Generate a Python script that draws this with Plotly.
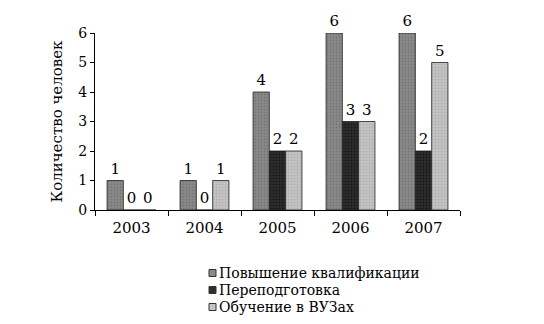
import plotly.graph_objects as go

years = ["2003", "2004", "2005", "2006", "2007"]
series_names = ["Повышение квалификации", "Переподготовка", "Обучение в ВУЗах"]
povyshenie = [1, 1, 4, 6, 6]
perepodgotovka = [0, 0, 2, 3, 2]
obuchenie = [0, 1, 2, 3, 5]
y_ticks = [0, 1, 2, 3, 4, 5, 6]

values = [povyshenie, perepodgotovka, obuchenie]
bg = ["#8a8a8a", "#2e2e2e", "#c4c4c4"]
fg = ["#5e5e5e", "#000000", "#9a9a9a"]

FONT = "DejaVu Serif"
W, H = 544, 324
ML, MR, MT, MB = 95, 84, 33, 114
PW, PH = W - ML - MR, H - MT - MB

def px_to_paper(px, py):
    return (px - ML) / PW, (H - MB - py) / PH

fig = go.Figure()
for name, vals, b, f in zip(series_names, values, bg, fg):
    fig.add_trace(go.Bar(
        x=years, y=vals, name=name,
        text=[str(v) for v in vals], textposition="outside",
        textfont=dict(family=FONT, size=15, color="black"),
        cliponaxis=False,
        marker=dict(color=b, line=dict(color="#222222", width=0.8),
                    pattern=dict(shape=".", fgcolor=f, bgcolor=b, size=3, solidity=0.3)),
    ))

# manual legend (compact rows like the reference)
for i, (name, b) in enumerate(zip(series_names, bg)):
    cy = 273 + 17 * i
    x0, y0 = px_to_paper(209, cy - 3.5)
    x1, y1 = px_to_paper(216, cy + 3.5)
    fig.add_shape(type="rect", xref="paper", yref="paper", x0=x0, x1=x1, y0=y1, y1=y0,
                  fillcolor=b, line=dict(color="#333333", width=1))
    tx, ty = px_to_paper(218, cy)
    fig.add_annotation(xref="paper", yref="paper", x=tx, y=ty, xanchor="left", yanchor="middle",
                       text=name, showarrow=False, borderpad=0,
                       font=dict(family=FONT, size=14, color="black"))

fig.update_layout(
    width=W, height=H,
    margin=dict(l=ML, r=MR, t=MT, b=MB, autoexpand=False),
    paper_bgcolor="white", plot_bgcolor="white",
    barmode="group", bargap=0.33, bargroupgap=0,
    font=dict(family=FONT, size=14, color="black"),
    showlegend=False,
)
fig.update_xaxes(showline=True, linecolor="black", linewidth=1, ticks="outside",
                 tickson="boundaries", ticklen=5, tickcolor="black", showgrid=False,
                 ticklabelstandoff=4, tickfont=dict(family=FONT, size=15))
fig.update_yaxes(range=[0, 6], tickvals=y_ticks, showline=True, linecolor="black",
                 linewidth=1, ticks="outside", ticklen=4, tickcolor="black",
                 showgrid=False, zeroline=False,
                 title=dict(text="Количество человек", font=dict(family=FONT, size=15), standoff=12),
                 tickfont=dict(family=FONT, size=14))

fig.write_html("out.html")
